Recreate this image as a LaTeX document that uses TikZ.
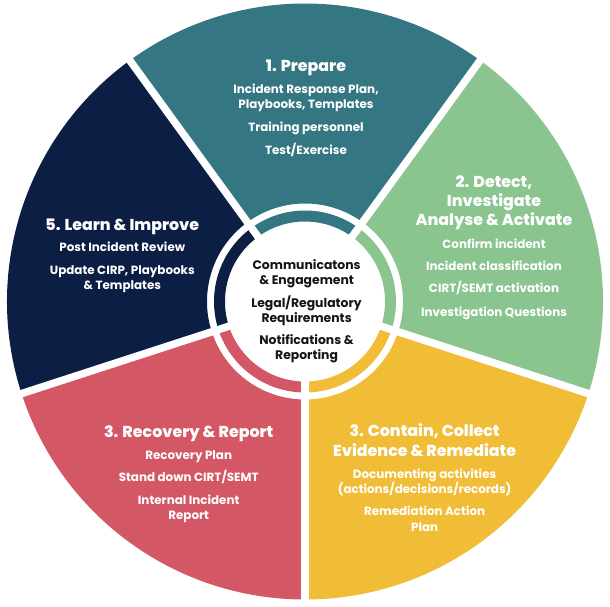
\documentclass[tikz,border=0pt]{standalone}
\usepackage{fontspec}
\setmainfont{Poppins}
\IfFontExistsTF{Poppins ExtraBold}{\newfontfamily\heavyfont{Poppins ExtraBold}}{\newcommand\heavyfont{\bfseries}}
\definecolor{cteal}{HTML}{347682}
\definecolor{cgreen}{HTML}{8AC48F}
\definecolor{cyellow}{HTML}{F2BD36}
\definecolor{cred}{HTML}{D35765}
\definecolor{cnavy}{HTML}{0D1E45}
\definecolor{cdark}{HTML}{151515}
\newcommand\mysector[3]{%
  \fill[#3] (#1:98) arc[start angle=#1,end angle=#2,radius=98] -- (#2:298)
    arc[start angle=#2,end angle=#1,radius=298] -- cycle;
  \draw[#3,line width=11pt] (#1:85.5) arc[start angle=#1,end angle=#2,radius=85.5];}
\begin{document}
\begin{tikzpicture}[x=1pt,y=1pt,
  body/.style={anchor=base,text=white,font=\fontsize{11.9}{13}\selectfont\bfseries,inner sep=0pt},
  ttl/.style={anchor=base,text=white,font=\fontsize{15.8}{17}\selectfont\heavyfont,inner sep=0pt},
  ctr/.style={anchor=base,text=cdark,font=\fontsize{12.4}{13}\selectfont\bfseries,inner sep=0pt},
  gapline/.style={white,line width=7.5pt}]
\useasboundingbox (-305,-304.5) rectangle (305,301.5);
\mysector{54}{126}{cteal}
\mysector{-18}{54}{cgreen}
\mysector{-90}{-18}{cyellow}
\mysector{198}{270}{cred}
\mysector{126}{198}{cnavy}
\foreach \a in {-90,-18,54,126,198} \draw[gapline] (0,0) -- (\a:310);
% Prepare
\node[ttl]  (p0) at (1,229.6) {1. Prepare};
\node[body] (p1) at (1,207.6) {Incident Response Plan,};
\node[body] (p2) at (1,192.7) {Playbooks, Templates};
\node[body] (p3) at (1,170.4) {Training personnel};
\node[body] (p4) at (1,147) {Test/Exercise};
% Detect
\node[ttl]  (d0) at (189,114.4) {2. Detect,};
\node[ttl]  (d1) at (189,94.8) {Investigate};
\node[ttl]  (d2) at (189,76) {Analyse \& Activate};
\node[body] (d3) at (189,53.4) {Confirm incident};
\node[body] (d4) at (189,31) {Incident classification};
\node[body] (d5) at (189,9.1) {CIRT/SEMT activation};
\node[body] (d6) at (189,-15.1) {Investigation Questions};
% Contain
\node[ttl]  (c0) at (119.6,-134.9) {3. Contain, Collect};
\node[ttl]  (c1) at (119.6,-155.2) {Evidence \& Remediate};
\node[body] (c2) at (119.6,-177.2) {Documenting activities};
\node[body] (c3) at (119.6,-192.1) {(actions/decisions/records)};
\node[body] (c4) at (119.6,-214.3) {Remediation Action};
\node[body] (c5) at (119.6,-229.9) {Plan};
% Recovery
\node[ttl]  (r0) at (-116.3,-135.6) {3. Recovery \& Report};
\node[body] (r1) at (-116.3,-157.6) {Recovery Plan};
\node[body] (r2) at (-116.3,-179.9) {Stand down CIRT/SEMT};
\node[body] (r3) at (-116.3,-202.6) {Internal Incident};
\node[body] (r4) at (-116.3,-218.2) {Report};
% Learn
\node[ttl]  (l0) at (-182.7,71.4) {5. Learn \& Improve};
\node[body] (l1) at (-182.7,50.1) {Post Incident Review};
\node[body] (l2) at (-182.7,26.7) {Update CIRP, Playbooks};
\node[body] (l3) at (-182.7,11.9) {\& Templates};
% Centre
\node[ctr] (m0) at (1.6,32.5) {Communicatons};
\node[ctr] (m1) at (1.6,17.3) {\& Engagement};
\node[ctr] (m2) at (1.6,-5.7) {Legal/Regulatory};
\node[ctr] (m3) at (1.6,-21.1) {Requirements};
\node[ctr] (m4) at (1.6,-43.3) {Notifications \&};
\node[ctr] (m5) at (1.6,-58.2) {Reporting};
\end{tikzpicture}
\end{document}
